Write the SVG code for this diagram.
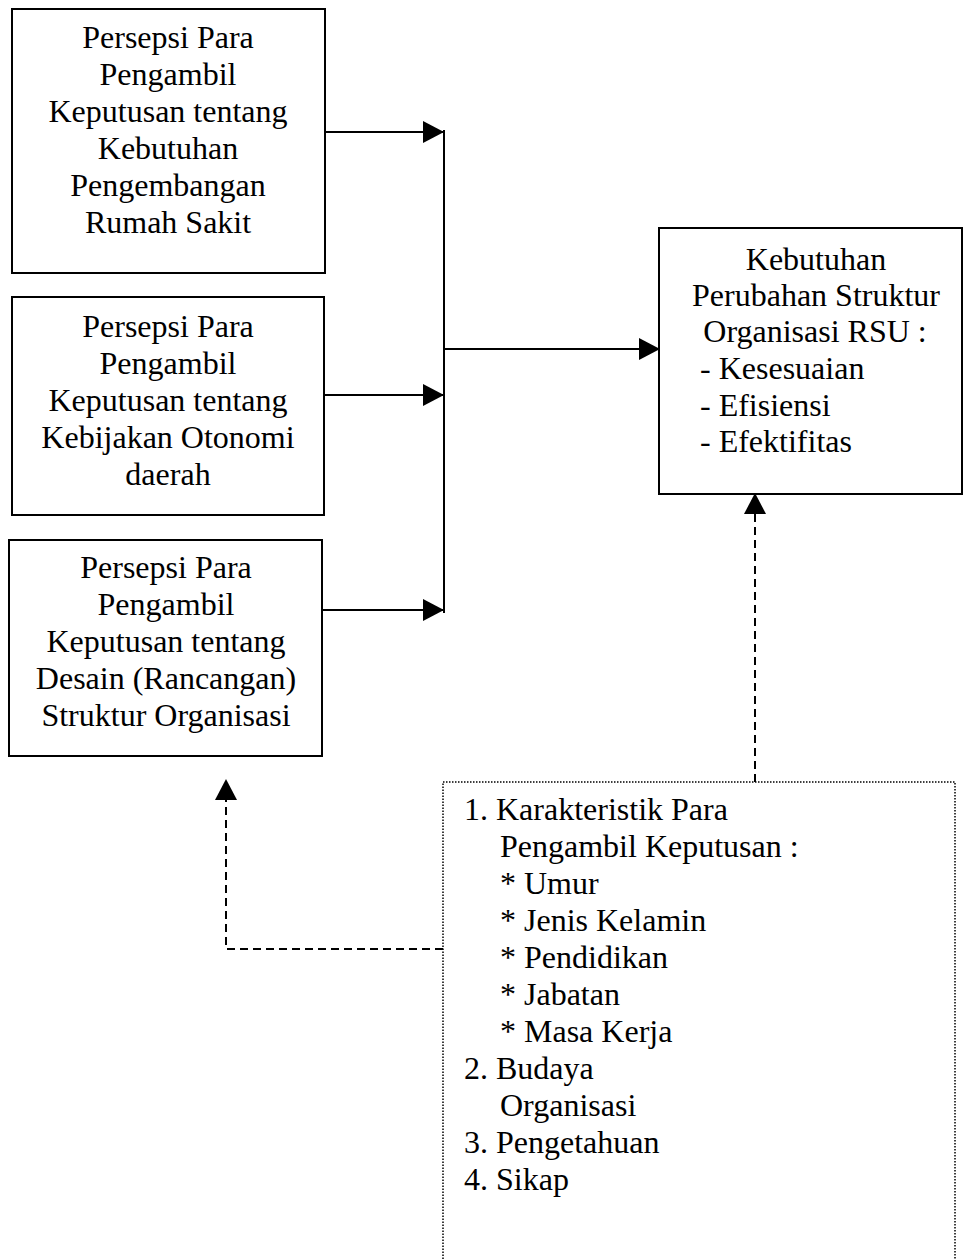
<svg xmlns="http://www.w3.org/2000/svg" width="963" height="1259" viewBox="0 0 963 1259">
<defs>
<style>
.box{fill:#fff;stroke:#000;stroke-width:2}
.dot{fill:none;stroke:#000;stroke-width:1.5;stroke-dasharray:1.5 1.5}
.ln{fill:none;stroke:#000;stroke-width:2}
.dash{fill:none;stroke:#000;stroke-width:2;stroke-dasharray:8 5}
text{font-family:"Liberation Serif","Times New Roman",serif;font-size:32px;fill:#000}
.c{text-anchor:middle}
</style>
<marker id="ah" markerWidth="21" markerHeight="22" refX="20" refY="11" orient="auto" markerUnits="userSpaceOnUse">
<path d="M0,0 L21,11 L0,22 z" fill="#000"/>
</marker>
</defs>
<rect width="963" height="1259" fill="#fff"/>

<g id="connectors">
<line class="ln" x1="325" y1="132" x2="443" y2="132" marker-end="url(#ah)"/>
<line class="ln" x1="324" y1="395" x2="443" y2="395" marker-end="url(#ah)"/>
<line class="ln" x1="322" y1="610" x2="443" y2="610" marker-end="url(#ah)"/>
<line class="ln" x1="444" y1="130" x2="444" y2="613"/>
<line class="ln" x1="444" y1="349" x2="659" y2="349" marker-end="url(#ah)"/>
<path class="dash" d="M755,782 V494" marker-end="url(#ah)"/>
<path class="dash" d="M443,949 H226 V780" marker-end="url(#ah)"/>
</g>

<g id="node-kebutuhan-pengembangan">
<rect class="box" x="12" y="9" width="313" height="264"/>
<text class="c" x="168"><tspan x="168" y="48">Persepsi Para</tspan><tspan x="168" y="85">Pengambil</tspan><tspan x="168" y="122">Keputusan tentang</tspan><tspan x="168" y="159">Kebutuhan</tspan><tspan x="168" y="196">Pengembangan</tspan><tspan x="168" y="233">Rumah Sakit</tspan></text>
</g>

<g id="node-otonomi">
<rect class="box" x="12" y="297" width="312" height="218"/>
<text class="c" x="168"><tspan x="168" y="337">Persepsi Para</tspan><tspan x="168" y="374">Pengambil</tspan><tspan x="168" y="411">Keputusan tentang</tspan><tspan x="168" y="448">Kebijakan Otonomi</tspan><tspan x="168" y="485">daerah</tspan></text>
</g>

<g id="node-desain">
<rect class="box" x="9" y="540" width="313" height="216"/>
<text class="c" x="166"><tspan x="166" y="578">Persepsi Para</tspan><tspan x="166" y="615">Pengambil</tspan><tspan x="166" y="652">Keputusan tentang</tspan><tspan x="166" y="689">Desain (Rancangan)</tspan><tspan x="166" y="726">Struktur Organisasi</tspan></text>
</g>

<g id="node-perubahan">
<rect class="box" x="659" y="228" width="303" height="266"/>
<text class="c" x="816"><tspan x="816" y="270">Kebutuhan</tspan><tspan x="816" y="306">Perubahan Struktur</tspan><tspan x="815" y="342">Organisasi RSU :</tspan></text>
<text><tspan x="700" y="379">- Kesesuaian</tspan><tspan x="700" y="416">- Efisiensi</tspan><tspan x="700" y="452">- Efektifitas</tspan></text>
</g>

<g id="node-karakteristik">
<path class="dot" d="M443,1259 V782 H955 V1259"/>
<text><tspan x="464" y="820">1. Karakteristik Para</tspan><tspan x="500" y="857">Pengambil Keputusan :</tspan><tspan x="500" y="894">* Umur</tspan><tspan x="500" y="931">* Jenis Kelamin</tspan><tspan x="500" y="968">* Pendidikan</tspan><tspan x="500" y="1005">* Jabatan</tspan><tspan x="500" y="1042">* Masa Kerja</tspan><tspan x="464" y="1079">2. Budaya</tspan><tspan x="500" y="1116">Organisasi</tspan><tspan x="464" y="1153">3. Pengetahuan</tspan><tspan x="464" y="1190">4. Sikap</tspan></text>
</g>
</svg>
